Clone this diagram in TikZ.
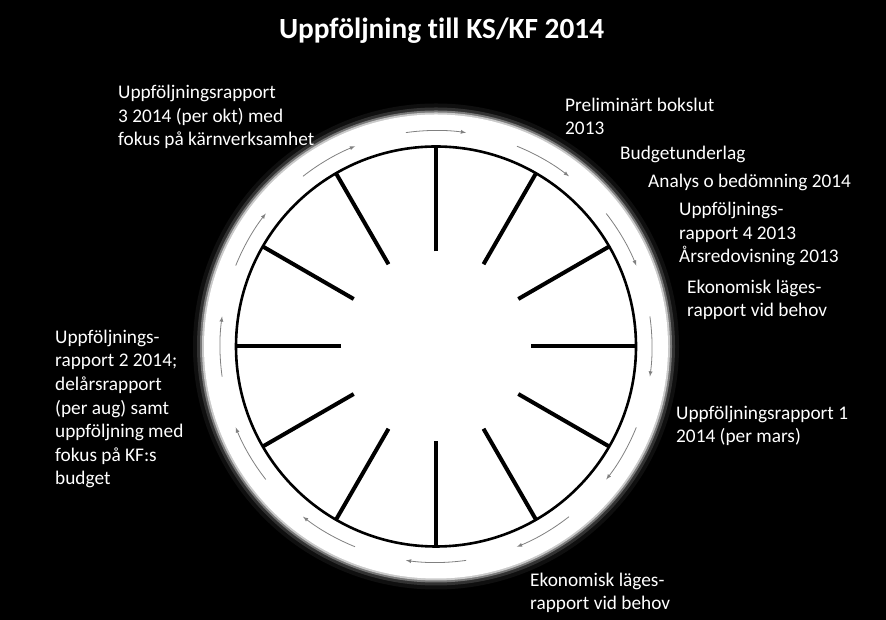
\documentclass[tikz,border=0pt]{standalone}
\usepackage{fontspec}
\setmainfont{Carlito}[Ligatures=NoCommon]
\usetikzlibrary{arrows}
\tikzset{
  event/.style={anchor=base west,align=left,inner sep=0pt,text=white,
    font=\fontsize{19.3}{23.6}\selectfont},
  spoke/.style={line width=4pt,black},
  turn/.style={gray,line width=0.8pt,-latex},
}
\begin{document}
\begin{tikzpicture}[x=1pt,y=1pt]
    \fill[black] (0,0) rectangle (886,620);
    \useasboundingbox (0,0) rectangle (886,620);

    \node[anchor=base,text=white,font=\bfseries\fontsize{29.3}{35}\selectfont] (title) at (441.5,581) {Uppföljning till KS/KF 2014};

    \begin{scope}[shift={(436,273.5)}]
      % soft rim round the wheel
      \foreach \r/\o in {243/0.06,239/0.15,236/0.35,234/0.6} {
        \fill[white,opacity=\o] (0,0) circle (\r);
      }
      \fill[white] (0,0) circle (232);
      \draw[black,line width=2.6pt] (0,0) circle (200);

      \foreach \a in {0,30,...,330} {
        \draw[spoke] (\a:95) -- (\a:200);
        \draw[turn] (\a+8:216) arc[start angle=\a+8,end angle=\a-8,radius=216];
      }
    \end{scope}

    % anchors sit on the last line of each text
    \node[event] (rapport3) at (118,474) {Uppföljningsrapport\\3 2014 (per okt) med\\fokus på kärnverksamhet};
    \node[event] (prelim) at (565,485) {Preliminärt bokslut\\2013};
    \node[event] (budget) at (620,460) {Budgetunderlag};
    \node[event] (analys) at (648,432) {Analys o bedömning 2014};
    \node[event] (rapport4) at (679,357) {Uppföljnings-\\rapport 4 2013\\Årsredovisning 2013};
    \node[event] (lage1) at (687,303) {Ekonomisk läges-\\rapport vid behov};
    \node[event] (rapport2) at (55,135) {Uppföljnings-\\rapport 2 2014;\\delårsrapport\\(per aug) samt\\uppföljning med\\fokus på KF:s\\budget};
    \node[event] (rapport1) at (676,177) {Uppföljningsrapport 1\\2014 (per mars)};
    \node[event] (lage2) at (530,10) {Ekonomisk läges-\\rapport vid behov};
  \end{tikzpicture}
\end{document}
